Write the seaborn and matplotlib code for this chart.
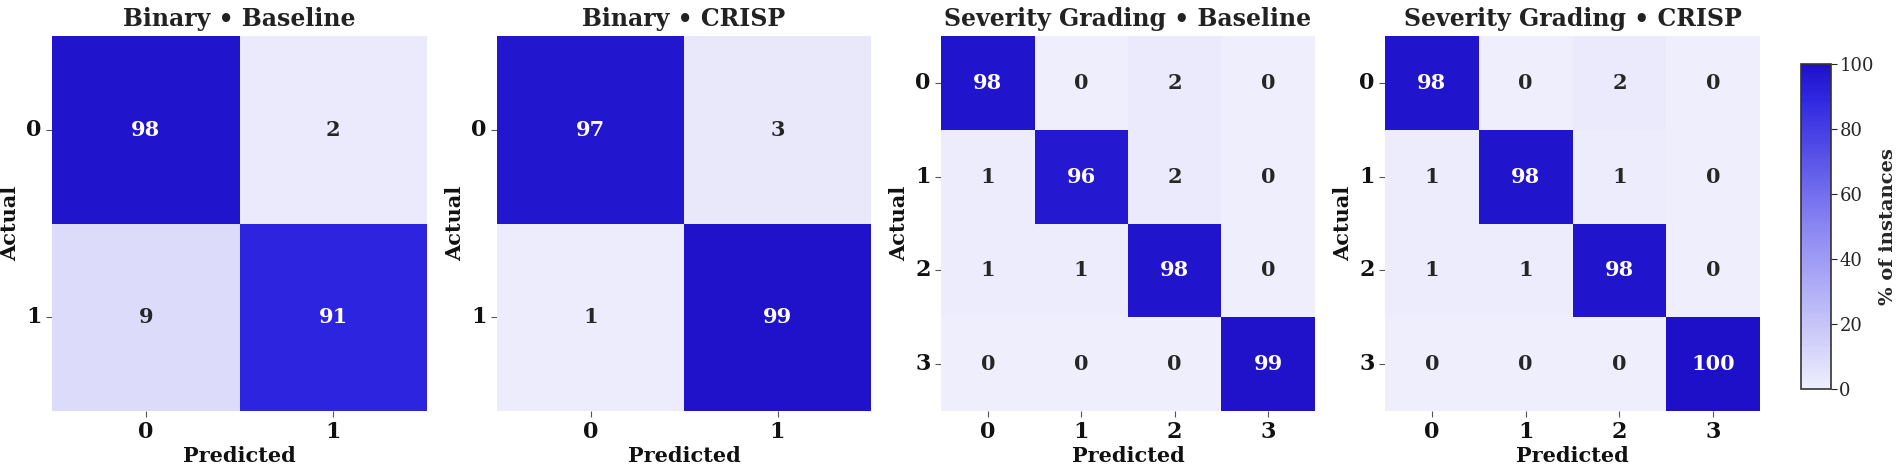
import numpy as np
import matplotlib
matplotlib.use("Agg")
import matplotlib.pyplot as plt
from matplotlib.colors import LinearSegmentedColormap
import seaborn as sns

# Confusion matrices (% of instances, row-normalised)
binary_baseline = [[98, 2],
                   [9, 91]]
binary_crisp = [[97, 3],
                [1, 99]]
severity_baseline = [[98, 0, 2, 0],
                     [1, 96, 2, 0],
                     [1, 1, 98, 0],
                     [0, 0, 0, 99]]
severity_crisp = [[98, 0, 2, 0],
                  [1, 98, 1, 0],
                  [1, 1, 98, 0],
                  [0, 0, 0, 100]]

titles = ["Binary • Baseline", "Binary • CRISP",
          "Severity Grading • Baseline", "Severity Grading • CRISP"]
binary_labels = ["0", "1"]
severity_labels = ["0", "1", "2", "3"]
cbar_ticks = [0, 20, 40, 60, 80, 100]

sns.set_theme(style="white")
plt.rcParams['font.family'] = ['DejaVu Serif']

cmap = LinearSegmentedColormap.from_list(
    "crisp_blue",
    [(0.0, "#eeeefc"), (0.5, "#8a86f2"), (0.9, "#2e26e0"), (1.0, "#1e10c8")])

fig = plt.figure(figsize=(19.02, 4.65), dpi=100)
W, H = 1902, 465

# axes boxes in pixels: left, right
boxes = [(52, 427), (497, 871), (941, 1315), (1385, 1760)]
top, bottom = 36, 411

matrices = [binary_baseline, binary_crisp, severity_baseline, severity_crisp]
labels = [binary_labels, binary_labels, severity_labels, severity_labels]

for mat, labs, title, (x0, x1) in zip(matrices, labels, titles, boxes):
    ax = fig.add_axes([x0 / W, (H - bottom) / H, (x1 - x0) / W, (bottom - top) / H])
    sns.heatmap(np.array(mat), ax=ax, cmap=cmap, vmin=0, vmax=100,
                annot=True, fmt="d", cbar=False,
                xticklabels=labs, yticklabels=labs,
                annot_kws={"fontsize": 15, "fontweight": "bold"})
    ax.set_title(title, fontsize=17, fontweight="bold", color="#222222", pad=7)
    ax.set_xlabel("Predicted", fontsize=15, fontweight="bold", color="#111111",
                  labelpad=2)
    ax.set_ylabel("Actual", fontsize=15, fontweight="bold", color="#111111")
    ax.tick_params(axis="both", length=4, width=0.8, colors="#555555",
                   labelsize=16, labelcolor="#111111")
    for t in ax.get_xticklabels() + ax.get_yticklabels():
        t.set_fontweight("bold")
    ax.set_yticklabels(labs, rotation=0)
    ax.tick_params(axis="x", bottom=True)
    ax.tick_params(axis="y", left=True)

# shared colorbar
cax = fig.add_axes([1801 / W, (H - 389) / H, 30 / W, 325 / H])
sm = plt.cm.ScalarMappable(cmap=cmap, norm=plt.Normalize(0, 100))
cb = fig.colorbar(sm, cax=cax, ticks=cbar_ticks)
cb.outline.set_linewidth(1.2)
cb.outline.set_edgecolor("#333333")
cb.ax.tick_params(labelsize=13, length=4, width=0.8, pad=2)
cb.set_label("% of instances", fontsize=14, fontweight="bold", labelpad=4)

fig.savefig("out.png", dpi=100)
